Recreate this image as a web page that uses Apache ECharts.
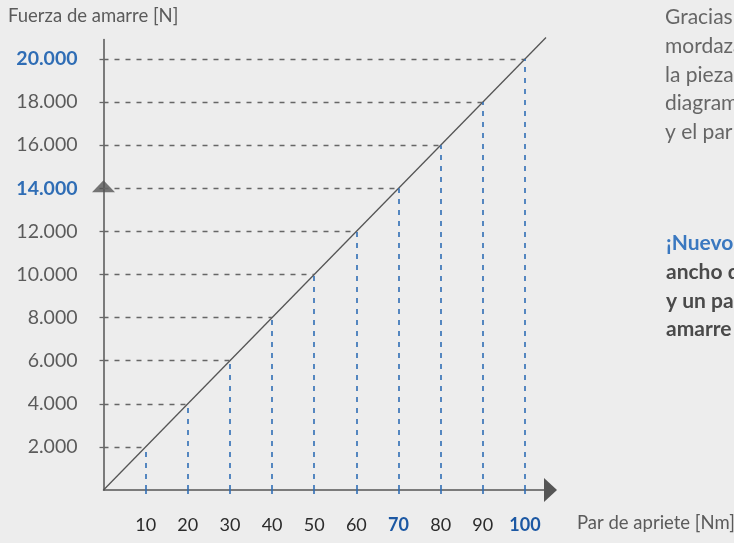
<!DOCTYPE html>
<html>
<head>
<meta charset="utf-8">
<script src="https://cdn.jsdelivr.net/npm/echarts@6/dist/echarts.min.js"></script>
<style>
  html, body { margin: 0; padding: 0; background: #ededed; }
  #chart { width: 734px; height: 543px; }
</style>
</head>
<body>
<div id="chart"></div>
<script>
// par de apriete [Nm] y fuerza de amarre [N]
var torque = [10, 20, 30, 40, 50, 60, 70, 80, 90, 100]
var force = [2000, 4000, 6000, 8000, 10000, 12000, 14000, 16000, 18000, 20000]
// la recta sigue un poco más allá de 100 Nm
var lineTorque = [0, 105]
var lineForce = [0, 21000]
var highlightTorque = [70, 100]
var highlightForce = [14000, 20000]
var markerForce = 14000

var textLines = ['Gracias a las nuevas', 'mordazas se sujeta', 'la pieza con firmeza. El', 'diagrama muestra la fuerza', 'y el par de apriete.']
var boldLines = ['¡Nuevo diseño', 'ancho de mordaza', 'y un par de apriete', 'amarre mayor!']

var FONT = 'Lato, "Noto Sans", sans-serif'
var GRAY = '#5b5b5b'
var BLUE = '#2f6db5'

function fmt(v) {
  return String(v).replace(/\B(?=(\d{3})+(?!\d))/g, '.')
}

var chart = echarts.init(document.getElementById('chart'), null, { renderer: 'canvas' })

var hLines = []
var vLines = []
for (let i = 0; i < torque.length; i++) {
  hLines.push([{ coord: [0, force[i]] }, { coord: [torque[i], force[i]] }])
  vLines.push([{ coord: [torque[i], 0] }, { coord: [torque[i], force[i]] }])
}

var graphics = [
  {
    type: 'text', left: 8, top: 7,
    style: { text: 'Fuerza de amarre [N]', font: '18.5px ' + FONT, fill: GRAY }
  },
  {
    type: 'text', left: 577, top: 514,
    style: { text: 'Par de apriete [Nm]', font: '18.5px ' + FONT, fill: GRAY }
  }
]
textLines.forEach(function(t, i) {
  graphics.push({
    type: 'text', left: 665, top: 7 + i * 28.7,
    style: { text: t, font: '21px ' + FONT, fill: '#666' }
  })
})
boldLines.forEach(function(t, i) {
  graphics.push({
    type: 'text', left: 666, top: 233 + i * 28.7,
    style: { text: t, font: 'bold 21px ' + FONT, fill: i === 0 ? '#3a78c0' : '#4a4a4a' }
  })
})

var option = {
  backgroundColor: '#ededed',
  animation: false,
  grid: {
    left: 103.5,
    right: 188,
    top: 39.6,
    bottom: 53,
    outerBoundsMode: 'none',
    containLabel: false
  },
  graphic: graphics,
  xAxis: {
    type: 'value',
    min: 0,
    max: 105,
    splitLine: { show: false },
    axisLine: {
      show: true,
      lineStyle: { color: '#555', width: 1.5 },
      symbol: ['none', 'triangle'],
      symbolSize: [24, 13],
      symbolOffset: [0, 4.5]
    },
    axisTick: {
      show: true,
      length: 4,
      customValues: torque,
      lineStyle: { color: BLUE, width: 1.6 }
    },
    axisLabel: {
      margin: 26,
      customValues: torque,
      fontFamily: FONT,
      fontSize: 18,
      color: '#2b2b2b',
      formatter: function(v) {
        return highlightTorque.indexOf(v) >= 0 ? '{b|' + v + '}' : String(v)
      },
      rich: {
        b: { fontFamily: FONT, fontSize: 18, fontWeight: 'bold', color: '#1c58a3' }
      }
    }
  },
  yAxis: {
    type: 'value',
    min: 0,
    max: 20900,
    splitLine: { show: false },
    axisLine: { show: true, lineStyle: { color: '#555', width: 1.5 } },
    axisTick: {
      show: true,
      length: 4,
      customValues: force,
      lineStyle: { color: '#666', width: 1.3 }
    },
    axisLabel: {
      margin: 26,
      customValues: force,
      fontFamily: FONT,
      fontSize: 19.5,
      color: GRAY,
      formatter: function(v) {
        return highlightForce.indexOf(v) >= 0 ? '{b|' + fmt(v) + '}' : fmt(v)
      },
      rich: {
        b: { fontFamily: FONT, fontSize: 19.5, fontWeight: 'bold', color: BLUE }
      }
    }
  },
  series: [
    {
      type: 'line',
      silent: true,
      symbol: 'none',
      data: [],
      markLine: {
        silent: true,
        symbol: 'none',
        label: { show: false },
        lineStyle: { color: '#666', width: 1.3, type: [5, 6] },
        data: hLines
      }
    },
    {
      type: 'line',
      silent: true,
      symbol: 'none',
      data: [],
      markLine: {
        silent: true,
        symbol: 'none',
        label: { show: false },
        lineStyle: { color: BLUE, width: 1.6, type: [5, 6] },
        data: vLines
      }
    },
    {
      type: 'line',
      silent: true,
      symbol: 'none',
      clip: false,
      lineStyle: { color: '#555', width: 1.3 },
      data: lineTorque.map(function(t, i) { return [t, lineForce[i]] })
    },
    {
      type: 'scatter',
      silent: true,
      symbol: 'triangle',
      symbolSize: [23, 12],
      symbolOffset: [0, -2],
      itemStyle: { color: '#555' },
      data: [[0, markerForce]]
    }
  ]
}

option && chart.setOption(option)
</script>
</body>
</html>
